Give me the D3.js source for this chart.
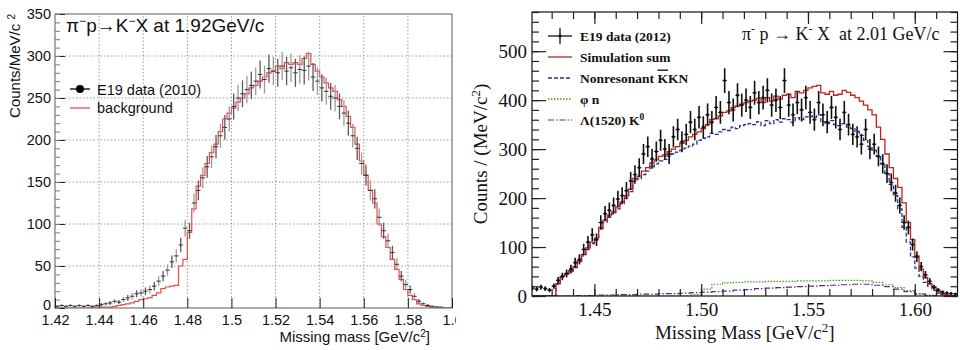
<!DOCTYPE html>
<html>
<head>
<meta charset="utf-8">
<script src="https://cdn.jsdelivr.net/npm/d3@7"></script>
<style>
  body { margin: 0; background: #fff; }
  svg { display: block; }
</style>
</head>
<body>
<svg id="chart" width="960" height="350"></svg>
<script>
// ---- left panel: pi- p -> K- X at 1.92 GeV/c, 2 MeV bins from 1.42
const leftBinStart = 1.42;
const leftBinWidth = 0.002;
const leftData = [
  2, 3, 2, 3, 2, 3, 2, 3, 2, 3,
  4, 5, 6, 8, 7, 10, 12, 14, 17, 18,
  20, 22, 26, 32, 38, 45, 55, 62, 75, 95,
  92, 125, 140, 155, 168, 180, 192, 205, 215, 225,
  240, 250, 255, 260, 265, 270, 278, 272, 285, 282,
  280, 288, 282, 286, 280, 284, 283, 288, 275, 270,
  262, 258, 252, 250, 240, 232, 220, 205, 190, 172,
  158, 140, 130, 108, 92, 80, 66, 52, 38, 28,
  22, 14, 8, 5, 3, 2, 1, 1, 0, 0
];
const leftBackground = [
  0, 0, 0, 0, 0, 0, 0, 0, 0.5, 1,
  1, 1, 1, 2, 3, 4, 5, 6, 8, 10,
  11, 12, 15, 18, 23, 25, 26, 27, 50, 58,
  90, 118, 145, 158, 172, 185, 195, 210, 225, 232,
  238, 245, 250, 255, 262, 265, 270, 275, 280, 282,
  288, 285, 292, 290, 292, 290, 297, 303, 290, 282,
  275, 268, 262, 258, 248, 240, 228, 215, 195, 175,
  158, 140, 125, 100, 85, 72, 58, 46, 34, 22,
  15, 10, 5, 3, 2, 1, 1, 0.5, 0, 0
];
const leftXTicks = [1.42, 1.44, 1.46, 1.48, 1.5, 1.52, 1.54, 1.56, 1.58, 1.6];
const leftXTickLabels = ["1.42", "1.44", "1.46", "1.48", "1.5", "1.52", "1.54", "1.56", "1.58", "1.6"];
const leftYTicks = [0, 50, 100, 150, 200, 250, 300, 350];

// ---- right panel: pi- p -> K- X at 2.01 GeV/c, 2 MeV bins from 1.42
const rightBinStart = 1.42;
const rightBinWidth = 0.002;
const rightData = [
  16, 14, 18, 15, 12, 20, 32, 40, 46, 55,
  68, 75, 95, 110, 125, 115, 150, 168, 175, 185,
  198, 205, 215, 235, 248, 262, 290, 305, 280, 295,
  318, 300, 290, 325, 340, 315, 330, 355, 340, 365,
  345, 370, 355, 385, 375, 440, 395, 380, 410, 390,
  400, 385, 415, 395, 405, 420, 390, 400, 385, 440,
  390, 370, 395, 380, 405, 375, 360, 395, 370, 355,
  385, 365, 340, 375, 350, 330, 325, 310, 340, 300,
  310, 285, 270, 250, 232, 210, 185, 150, 140, 105,
  80, 60, 43, 30, 18, 12, 8, 6, 5, 4
];
const rightSimSum = [
  0, 0, 0, 0, 0, 0, 25, 40, 45, 52,
  60, 72, 85, 98, 110, 118, 140, 155, 165, 172,
  182, 192, 205, 218, 240, 245, 255, 262, 272, 278,
  285, 288, 295, 300, 305, 312, 318, 325, 330, 335,
  342, 350, 360, 362, 368, 375, 378, 385, 388, 392,
  395, 398, 400, 404, 395, 405, 398, 408, 402, 410,
  412, 405, 418, 415, 420, 425, 428, 430, 415, 412,
  418, 410, 412, 420, 416, 410, 405, 398, 390, 380,
  370, 345, 320, 290, 262, 240, 222, 190, 150, 115,
  82, 55, 38, 25, 18, 10, 5, 2, 0, 0
];
const rightNonres = [
  0, 0, 0, 0, 0, 0, 24, 38, 44, 50,
  58, 70, 82, 95, 107, 115, 137, 151, 161, 168,
  178, 188, 200, 213, 234, 239, 248, 255, 264, 270,
  276, 279, 285, 290, 294, 298, 302, 306, 310, 318,
  322, 325, 332, 330, 335, 340, 338, 345, 342, 348,
  350, 352, 350, 356, 348, 358, 352, 360, 355, 362,
  360, 355, 364, 360, 366, 368, 365, 370, 356, 352,
  358, 350, 348, 352, 345, 342, 336, 328, 318, 305,
  298, 285, 270, 250, 228, 205, 178, 140, 110, 80,
  57, 40, 28, 20, 12, 6, 3, 1, 0, 0
];
// smooth components read on 5 MeV bins
const coarseBinWidth = 0.005;
const rightPhiN = [
  0, 0, 0, 0, 0, 0, 0, 0, 0, 0,
  0, 0, 0, 0, 0, 3, 14, 24, 27, 28,
  29, 29, 30, 30, 30, 31, 31, 31, 32, 32,
  32, 31, 28, 23, 17, 11, 5, 2, 0, 0
];
const rightLambdaK0 = [
  0, 0, 0, 0, 1, 1, 2, 2, 3, 3,
  4, 4, 5, 5, 6, 7, 8, 9, 10, 12,
  13, 15, 16, 17, 18, 19, 20, 21, 22, 23,
  24, 24, 22, 19, 14, 9, 4, 1, 0, 0
];
const rightXTicks = [1.45, 1.5, 1.55, 1.6];
const rightXTickLabels = ["1.45", "1.50", "1.55", "1.60"];
const rightYTicks = [0, 100, 200, 300, 400, 500];

const sans = "Liberation Sans, Arial, sans-serif";
const serif = "Liberation Serif, Times New Roman, serif";

const svg = d3.select("#chart");
const defs = svg.append("defs");

function histPoints(values, start, width) {
  const pts = values.map((v, i) => [start + i * width, v]);
  pts.push([start + values.length * width, values[values.length - 1]]);
  return pts;
}

function addClip(id, x, y, w, h) {
  defs.append("clipPath").attr("id", id)
    .append("rect").attr("x", x).attr("y", y).attr("width", w).attr("height", h);
}

function styleAxis(g, family, size) {
  g.select(".domain").remove();
  g.attr("font-family", family).attr("font-size", size);
  g.selectAll("line").attr("stroke", "#222");
  g.selectAll("text").attr("fill", "#111");
}

function drawLeft() {
  const x = d3.scaleLinear().domain([1.42, 1.6]).range([55, 452]);
  const y = d3.scaleLinear().domain([0, 350]).range([308, 14]);

  addClip("leftClip", 0, 0, 456, 350);
  addClip("leftPlot", 55, 14, 397, 294);
  const panel = svg.append("g").attr("clip-path", "url(#leftClip)");

  // dotted grid
  const grid = panel.append("g").attr("stroke", "#9a9a9a").attr("stroke-dasharray", "1.5,2").attr("stroke-width", 1);
  grid.selectAll(".gx").data(leftXTicks.slice(1, -1)).enter().append("line")
    .attr("x1", d => x(d)).attr("x2", d => x(d)).attr("y1", y(0)).attr("y2", y(350));
  grid.selectAll(".gy").data(leftYTicks.slice(1, -1)).enter().append("line")
    .attr("x1", x(1.42)).attr("x2", x(1.6)).attr("y1", d => y(d)).attr("y2", d => y(d));

  const plot = panel.append("g").attr("clip-path", "url(#leftPlot)");

  // background histogram
  const line = d3.line().x(d => x(d[0])).y(d => y(d[1])).curve(d3.curveStepAfter);
  plot.append("path")
    .datum(histPoints(leftBackground, leftBinStart, leftBinWidth))
    .attr("d", line).attr("fill", "none").attr("stroke", "#ea4b4b").attr("stroke-width", 1.2);

  // data with error bars
  const pts = leftData.map((v, i) => ({ c: leftBinStart + (i + 0.5) * leftBinWidth, v: v }));
  const marks = plot.append("g");
  marks.selectAll(".ev").data(pts).enter().append("line")
    .attr("x1", d => x(d.c)).attr("x2", d => x(d.c))
    .attr("y1", d => y(d.v + Math.sqrt(d.v))).attr("y2", d => y(Math.max(0, d.v - Math.sqrt(d.v))))
    .attr("stroke", (d, i) => i % 2 ? "#9a9a9a" : "#5a5a5a").attr("stroke-width", 1.3);
  marks.selectAll(".eh").data(pts).enter().append("line")
    .attr("x1", d => x(d.c - leftBinWidth / 2)).attr("x2", d => x(d.c + leftBinWidth / 2))
    .attr("y1", d => y(d.v)).attr("y2", d => y(d.v))
    .attr("stroke", "#333").attr("stroke-width", 1);

  // frame
  panel.append("rect").attr("x", 55).attr("y", 14).attr("width", 397).attr("height", 294)
    .attr("fill", "none").attr("stroke", "#777").attr("stroke-width", 1.2);

  // axes (ticks pointing inside)
  const ya = panel.append("g").attr("transform", "translate(55,0)")
    .call(d3.axisLeft(y).tickValues(leftYTicks).tickSize(-10).tickPadding(4));
  styleAxis(ya, sans, 14.5);
  ya.selectAll(".tick text").filter(d => d === 0).attr("dy", "0.1em");
  const yMinor = panel.append("g").attr("transform", "translate(55,0)")
    .call(d3.axisLeft(y).tickValues(d3.range(0, 351, 10)).tickSize(-5).tickFormat(""));
  styleAxis(yMinor, sans, 14.5);
  yMinor.selectAll("line").attr("stroke", "#777");
  const xa = panel.append("g").attr("transform", "translate(0,308)")
    .call(d3.axisBottom(x).tickValues(leftXTicks).tickSize(-10).tickPadding(7)
      .tickFormat((d, i) => leftXTickLabels[i]));
  styleAxis(xa, sans, 14.5);

  // titles
  const title = panel.append("text").attr("x", 66).attr("y", 32)
    .attr("font-family", sans).attr("font-size", 19).attr("fill", "#111");
  title.append("tspan").text("π");
  title.append("tspan").attr("baseline-shift", "super").attr("font-size", 12).text("−");
  title.append("tspan").text("p→K");
  title.append("tspan").attr("baseline-shift", "super").attr("font-size", 12).text("−");
  title.append("tspan").text("X at 1.92GeV/c");

  const xt = panel.append("text").attr("x", 430).attr("y", 342).attr("text-anchor", "end")
    .attr("font-family", sans).attr("font-size", 15).attr("fill", "#111");
  xt.append("tspan").text("Missing mass [GeV/c");
  xt.append("tspan").attr("baseline-shift", "super").attr("font-size", 10).text("2");
  xt.append("tspan").text("]");

  const yt = panel.append("text").attr("transform", "translate(20,14) rotate(-90)").attr("text-anchor", "end")
    .attr("font-family", sans).attr("font-size", 15).attr("fill", "#111");
  yt.append("tspan").text("Counts/MeV/c ");
  yt.append("tspan").attr("baseline-shift", "super").attr("font-size", 10).text("2");

  // legend
  const lg = panel.append("g").attr("font-family", sans).attr("font-size", 14.5).attr("fill", "#111");
  lg.append("line").attr("x1", 70).attr("x2", 90).attr("y1", 89).attr("y2", 89).attr("stroke", "#000").attr("stroke-width", 1.3);
  lg.append("circle").attr("cx", 80).attr("cy", 89).attr("r", 4).attr("fill", "#000");
  lg.append("text").attr("x", 97).attr("y", 95).text("E19 data (2010)");
  lg.append("line").attr("x1", 70).attr("x2", 90).attr("y1", 108).attr("y2", 108).attr("stroke", "#ea4b4b").attr("stroke-width", 1.3);
  lg.append("text").attr("x", 97).attr("y", 113).text("background");
}

function drawRight() {
  const x = d3.scaleLinear().domain([1.4208, 1.62]).range([532, 957.5]);
  const y = d3.scaleLinear().domain([0, 580]).range([296, 12]);
  const left = x(1.4208), right = x(1.62), top = y(580), bottom = y(0);

  addClip("rightPlot", left, top, right - left, bottom - top);
  const panel = svg.append("g");
  const plot = panel.append("g").attr("clip-path", "url(#rightPlot)");
  const line = d3.line().x(d => x(d[0])).y(d => y(d[1])).curve(d3.curveStepAfter);

  plot.append("path").datum(histPoints(rightLambdaK0, rightBinStart, coarseBinWidth))
    .attr("d", line).attr("fill", "none").attr("stroke", "#5a2a82").attr("stroke-width", 1.2)
    .attr("stroke-dasharray", "6,2,1.5,2");
  plot.append("path").datum(histPoints(rightPhiN, rightBinStart, coarseBinWidth))
    .attr("d", line).attr("fill", "none").attr("stroke", "#3d9b25").attr("stroke-width", 1.2)
    .attr("stroke-dasharray", "1.5,1.5");
  plot.append("path").datum(histPoints(rightNonres, rightBinStart, rightBinWidth))
    .attr("d", line).attr("fill", "none").attr("stroke", "#27318a").attr("stroke-width", 1.3)
    .attr("stroke-dasharray", "4,2");
  plot.append("path").datum(histPoints(rightSimSum, rightBinStart, rightBinWidth))
    .attr("d", line).attr("fill", "none").attr("stroke", "#c0221c").attr("stroke-width", 1.3);

  const pts = rightData.map((v, i) => ({ c: rightBinStart + (i + 0.5) * rightBinWidth, v: v }));
  const marks = plot.append("g").attr("stroke", "#111");
  marks.selectAll(".ev").data(pts).enter().append("line")
    .attr("x1", d => x(d.c)).attr("x2", d => x(d.c))
    .attr("y1", d => y(d.v + 1.2 * Math.sqrt(d.v))).attr("y2", d => y(Math.max(0, d.v - 1.2 * Math.sqrt(d.v))))
    .attr("stroke-width", 1.6);
  marks.selectAll(".eh").data(pts).enter().append("line")
    .attr("x1", d => x(d.c - rightBinWidth / 2)).attr("x2", d => x(d.c + rightBinWidth / 2))
    .attr("y1", d => y(d.v)).attr("y2", d => y(d.v)).attr("stroke-width", 1);
  marks.selectAll(".pt").data(pts).enter().append("circle")
    .attr("cx", d => x(d.c)).attr("cy", d => y(d.v)).attr("r", 1.4).attr("fill", "#111").attr("stroke", "none");

  // frame + ticks on all sides
  panel.append("rect").attr("x", left).attr("y", top).attr("width", right - left).attr("height", bottom - top)
    .attr("fill", "none").attr("stroke", "#111").attr("stroke-width", 1.2);

  const xMinor = d3.range(143, 162).map(d => d / 100);
  const yMinor = d3.range(0, 581, 20);
  const ax = [
    [d3.axisBottom(x).tickValues(rightXTicks).tickSize(-12).tickPadding(7).tickFormat((d, i) => rightXTickLabels[i]), `translate(0,${bottom})`],
    [d3.axisBottom(x).tickValues(xMinor).tickSize(-7).tickFormat(""), `translate(0,${bottom})`],
    [d3.axisTop(x).tickValues(rightXTicks).tickSize(-12).tickFormat(""), `translate(0,${top})`],
    [d3.axisTop(x).tickValues(xMinor).tickSize(-7).tickFormat(""), `translate(0,${top})`],
    [d3.axisLeft(y).tickValues(rightYTicks).tickSize(-14).tickPadding(5), `translate(${left},0)`],
    [d3.axisLeft(y).tickValues(yMinor).tickSize(-7).tickFormat(""), `translate(${left},0)`],
    [d3.axisRight(y).tickValues(rightYTicks).tickSize(-14).tickFormat(""), `translate(${right},0)`],
    [d3.axisRight(y).tickValues(yMinor).tickSize(-7).tickFormat(""), `translate(${right},0)`]
  ];
  ax.forEach(a => {
    const g = panel.append("g").attr("transform", a[1]).call(a[0]);
    styleAxis(g, serif, 19);
    g.selectAll("line").attr("stroke-width", 1.2);
  });

  // titles
  const xt = panel.append("text").attr("x", (left + right) / 2).attr("y", 339).attr("text-anchor", "middle")
    .attr("font-family", serif).attr("font-size", 19).attr("fill", "#111");
  xt.append("tspan").text("Missing Mass [GeV/c");
  xt.append("tspan").attr("baseline-shift", "super").attr("font-size", 13).text("2");
  xt.append("tspan").text("]");

  const yt = panel.append("text").attr("transform", `translate(487,${(top + bottom) / 2}) rotate(-90)`)
    .attr("text-anchor", "middle").attr("font-family", serif).attr("font-size", 19).attr("fill", "#111");
  yt.append("tspan").text("Counts / (MeV/c");
  yt.append("tspan").attr("baseline-shift", "super").attr("font-size", 13).text("2");
  yt.append("tspan").text(")");

  const title = panel.append("text").attr("x", 742).attr("y", 40)
    .attr("font-family", serif).attr("font-size", 18).attr("fill", "#111");
  title.append("tspan").text("π");
  title.append("tspan").attr("baseline-shift", "super").attr("font-size", 12).text("-");
  title.append("tspan").text(" p → K");
  title.append("tspan").attr("baseline-shift", "super").attr("font-size", 12).text("-");
  title.append("tspan").text(" X\u00a0 at 2.01 GeV/c");

  // legend
  const lg = panel.append("g").attr("font-family", serif).attr("font-size", 13.5).attr("font-weight", "bold").attr("fill", "#111");
  const rows = [36, 57, 78, 99, 120];
  lg.append("line").attr("x1", 548).attr("x2", 572).attr("y1", rows[0]).attr("y2", rows[0]).attr("stroke", "#111").attr("stroke-width", 1.3);
  lg.append("line").attr("x1", 560).attr("x2", 560).attr("y1", rows[0] - 8).attr("y2", rows[0] + 8).attr("stroke", "#111").attr("stroke-width", 1.3);
  lg.append("circle").attr("cx", 560).attr("cy", rows[0]).attr("r", 1.6).attr("fill", "#111");
  lg.append("line").attr("x1", 548).attr("x2", 572).attr("y1", rows[1]).attr("y2", rows[1]).attr("stroke", "#c0221c").attr("stroke-width", 1.3);
  lg.append("line").attr("x1", 548).attr("x2", 572).attr("y1", rows[2]).attr("y2", rows[2]).attr("stroke", "#27318a").attr("stroke-width", 1.3).attr("stroke-dasharray", "4,2");
  lg.append("line").attr("x1", 548).attr("x2", 572).attr("y1", rows[3]).attr("y2", rows[3]).attr("stroke", "#3d9b25").attr("stroke-width", 1.3).attr("stroke-dasharray", "1.5,1.5");
  lg.append("line").attr("x1", 548).attr("x2", 572).attr("y1", rows[4]).attr("y2", rows[4]).attr("stroke", "#5a2a82").attr("stroke-width", 1.2).attr("stroke-dasharray", "6,2,1.5,2");

  lg.append("text").attr("x", 580).attr("y", rows[0] + 4.5).text("E19 data (2012)");
  lg.append("text").attr("x", 580).attr("y", rows[1] + 4.5).text("Simulation sum");
  const nr = lg.append("text").attr("x", 580).attr("y", rows[2] + 4.5);
  nr.append("tspan").text("Nonresonant ");
  nr.append("tspan").attr("text-decoration", "overline").text("K");
  nr.append("tspan").text("KN");
  lg.append("text").attr("x", 580).attr("y", rows[3] + 4.5).text("φ n");
  const lk = lg.append("text").attr("x", 580).attr("y", rows[4] + 4.5);
  lk.append("tspan").text("Λ(1520) K");
  lk.append("tspan").attr("baseline-shift", "super").attr("font-size", 9.5).text("0");
}

drawLeft();
drawRight();
</script>
</body>
</html>
